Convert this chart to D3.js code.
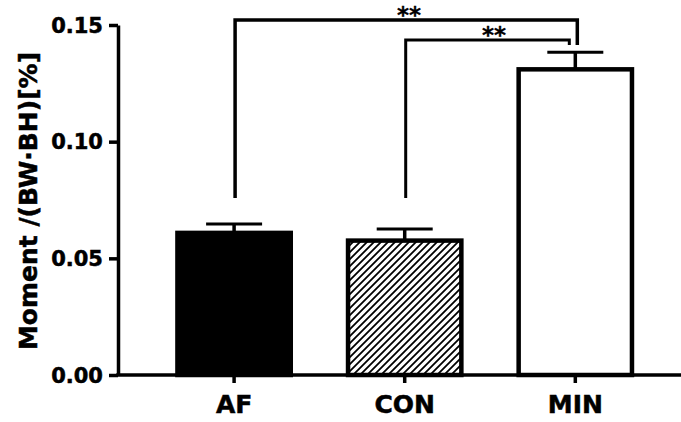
<!DOCTYPE html>
<html>
<head>
<meta charset="utf-8">
<script src="https://cdn.jsdelivr.net/npm/d3@7"></script>
<style>
  body { margin: 0; background: #fff; }
  svg text { font-family: "DejaVu Sans", sans-serif; font-weight: bold; fill: #000; stroke: #000; stroke-width: 0.5px; }
</style>
</head>
<body>
<div id="chart"></div>
<script>
// values
const categories = ["AF", "CON", "MIN"];
const means = [0.0609, 0.0576, 0.1310];
const errors = [0.0038, 0.0050, 0.0073];
const yTicks = [0, 0.05, 0.10, 0.15];
const sigPairs = [["AF", "MIN"], ["CON", "MIN"]];
const sigLabels = ["**", "**"];

const W = 681, H = 422;
const LEFT = 118, BOTTOM = 375, TOP = 25;

const svg = d3.select("#chart").append("svg")
    .attr("width", W)
    .attr("height", H);

const defs = svg.append("defs");
defs.append("pattern")
    .attr("id", "hatch")
    .attr("patternUnits", "userSpaceOnUse")
    .attr("width", 7)
    .attr("height", 7)
  .append("path")
    .attr("d", "M-1,1 l2,-2 M0,7 l7,-7 M6,8 l2,-2")
    .attr("stroke", "#000")
    .attr("stroke-width", 1.8);

const y = d3.scaleLinear()
    .domain([0, 0.15])
    .range([BOTTOM, TOP]);

const x = d3.scaleBand()
    .domain(categories)
    .range([LEFT, W])
    .paddingInner(0.31)
    .paddingOuter(0.305)
    .align(0.55);

// bars
const barStyle = {
  AF:  {fill: "#000", stroke: "#000"},
  CON: {fill: "url(#hatch)", stroke: "#000"},
  MIN: {fill: "#fff", stroke: "#000"}
};

const data = categories.map((c, i) => ({cat: c, mean: means[i], err: errors[i]}));

// error bars (drawn first, bars on top)
const eb = svg.append("g");
eb.selectAll(".stem").data(data).enter().append("line")
    .attr("x1", d => x(d.cat) + x.bandwidth() / 2)
    .attr("x2", d => x(d.cat) + x.bandwidth() / 2)
    .attr("y1", d => y(d.mean))
    .attr("y2", d => y(d.mean + d.err))
    .attr("stroke", "#000")
    .attr("stroke-width", 3.5);
eb.selectAll(".cap").data(data).enter().append("line")
    .attr("x1", d => x(d.cat) + x.bandwidth() / 2 - 28)
    .attr("x2", d => x(d.cat) + x.bandwidth() / 2 + 28)
    .attr("y1", d => y(d.mean + d.err))
    .attr("y2", d => y(d.mean + d.err))
    .attr("stroke", "#000")
    .attr("stroke-width", 3);

svg.append("g").selectAll("rect").data(data).enter().append("rect")
    .attr("x", d => x(d.cat) + 2.2)
    .attr("y", d => y(d.mean))
    .attr("width", x.bandwidth() - 4.4)
    .attr("height", d => BOTTOM - y(d.mean))
    .attr("fill", d => barStyle[d.cat].fill)
    .attr("stroke", d => barStyle[d.cat].stroke)
    .attr("stroke-width", 4.5);

// axes
const yAxis = svg.append("g")
    .attr("transform", `translate(${LEFT},0)`)
    .call(d3.axisLeft(y).tickValues(yTicks).tickFormat(d3.format(".2f")).tickSize(9).tickSizeOuter(0).tickPadding(6));
yAxis.selectAll("path, line").attr("stroke", "#000").attr("stroke-width", 3.5);
yAxis.selectAll("text").style("font-size", "21px").attr("dy", "0.34em");

const xAxis = svg.append("g")
    .attr("transform", `translate(0,${BOTTOM})`)
    .call(d3.axisBottom(x).tickSize(8).tickSizeOuter(0).tickPadding(12.5));
xAxis.select(".domain").remove();
xAxis.selectAll("line").attr("stroke", "#000").attr("stroke-width", 3.5);
xAxis.selectAll("text").style("font-size", "25px");
xAxis.append("line")
    .attr("x1", LEFT - 1.75)
    .attr("x2", W)
    .attr("stroke", "#000")
    .attr("stroke-width", 3.5);

// y title
svg.append("text")
    .attr("transform", "translate(37,201) rotate(-90)")
    .attr("text-anchor", "middle")
    .style("font-size", "25px")
    .text("Moment /(BW·BH)[%]");

// significance brackets
const cx = c => x(c) + x.bandwidth() / 2;
const bracketTop = [0.1521, 0.1436];
const rightShift = [2, -6];
const br = svg.append("g")
    .attr("fill", "none")
    .attr("stroke", "#000");
sigPairs.forEach((p, i) => {
  const x1 = cx(p[0]) + 1, x2 = cx(p[1]) + rightShift[i];
  const yt = y(bracketTop[i]);
  br.append("path")
      .attr("d", `M${x1},${y(0.0759)} V${yt} H${x2} V${y(0.1414)}`)
      .attr("stroke-width", i === 0 ? 3.5 : 3);
  svg.append("text")
      .attr("x", i === 0 ? 409 : 494)
      .attr("y", yt + 3)
      .attr("text-anchor", "middle")
      .style("font-size", "23px")
      .style("stroke-width", "0.3px")
      .text(sigLabels[i]);
});
</script>
</body>
</html>
